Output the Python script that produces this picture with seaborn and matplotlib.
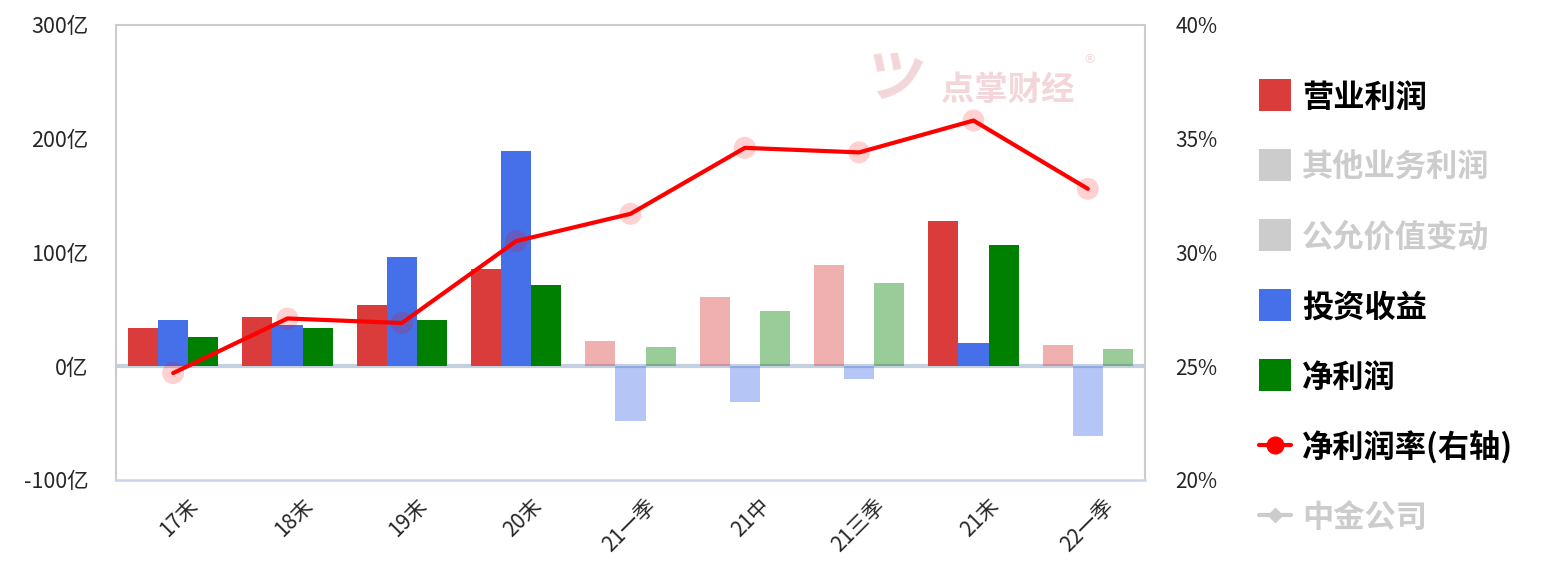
import numpy as np
import pandas as pd
import matplotlib
matplotlib.use("Agg")
import matplotlib.pyplot as plt
import matplotlib.transforms as mtransforms
from matplotlib.patches import Rectangle
from matplotlib.lines import Line2D
import seaborn as sns

# ---- data ----
categories = ["17末", "18末", "19末", "20末", "21一季", "21中", "21三季", "21末", "22一季"]
operating_profit = [34, 43, 54, 85.5, 22, 61, 89, 128, 18.5]
investment_income = [41, 36, 96, 189, -48.5, -31, -11.5, 20, -61]
net_profit = [25.5, 34, 41, 71, 17, 48.5, 73, 106.5, 15]
net_margin = [24.7, 27.1, 26.9, 30.5, 31.7, 34.6, 34.4, 35.8, 32.8]
faded = [False, False, False, False, True, True, True, False, True]

series_names = ["营业利润", "投资收益", "净利润"]
legend_labels = ["营业利润", "其他业务利润", "公允价值变动", "投资收益", "净利润", "净利润率(右轴)", "中金公司"]
legend_active = [True, False, False, True, True, True, False]
left_ticks = [-100, 0, 100, 200, 300]
right_ticks = [20, 25, 30, 35, 40]

colors = {"营业利润": "#DA3B3B", "投资收益": "#4570E9", "净利润": "#008000"}

df = pd.DataFrame({
    "cat": categories * 3,
    "series": sum([[s] * len(categories) for s in series_names], []),
    "value": operating_profit + investment_income + net_profit,
})

sns.set_theme(style="white")
plt.rcParams["font.family"] = ["Noto Sans CJK SC", "DejaVu Sans"]
plt.rcParams["axes.unicode_minus"] = False

W, H = 1542, 579
fig = plt.figure(figsize=(W / 100, H / 100), dpi=100)
ax = fig.add_axes([116 / W, 1 - 480 / H, (1145 - 116) / W, (480 - 25) / H])

ax.axhline(0, color="#C3D0E0", lw=3, zorder=0.5)

sns.barplot(data=df, x="cat", y="value", hue="series", hue_order=series_names,
            order=categories, palette=colors, width=0.79, errorbar=None,
            saturation=1, ax=ax, legend=False, zorder=2)

for cont in ax.containers:
    for i, bar in enumerate(cont):
        bar.set_edgecolor("none")
        bar.set_linewidth(0)
        if faded[i]:
            bar.set_alpha(0.4)

ax.set_ylim(-100, 300)
ax.set_yticks(left_ticks)
ax.set_yticklabels([f"{v}亿" for v in left_ticks], fontsize=15.5)
ax.set_xlim(-0.5, len(categories) - 0.5)
ax.set_xlabel("")
ax.set_ylabel("")
ax.tick_params(axis="y", length=0, pad=20)
ax.tick_params(axis="x", length=0, pad=16)
for lbl in ax.get_xticklabels():
    lbl.set_rotation(45)
    lbl.set_ha("right")
    lbl.set_va("center")
    lbl.set_rotation_mode("anchor")
    lbl.set_fontsize(15)
    lbl.set_transform(lbl.get_transform() + mtransforms.ScaledTranslation(22 / 100, 0, fig.dpi_scale_trans))

for side in ["left", "top", "right"]:
    ax.spines[side].set_color("#CCCCCC")
    ax.spines[side].set_linewidth(1.5)
ax.spines["bottom"].set_color("#C8D4E8")
ax.spines["bottom"].set_linewidth(1.8)

# watermark
ax.text(0.867, 0.857, "点掌财经", transform=ax.transAxes, fontsize=24, fontweight="bold",
        color="#F3D6D9", ha="center", va="center", zorder=0.3)
ax.text(0.755, 0.875, "ツ", transform=ax.transAxes, fontsize=42, fontweight="bold",
        color="#F3D6D9", ha="center", va="center", zorder=0.3, rotation=-10)
ax.text(0.946, 0.925, "®", transform=ax.transAxes, fontsize=9,
        color="#F3D6D9", ha="center", va="center", zorder=0.3, family="DejaVu Sans")

# right axis
ax2 = ax.twinx()
x_pos = np.arange(len(categories))
line_df = pd.DataFrame({"x": x_pos, "margin": net_margin})
sns.scatterplot(data=line_df, x="x", y="margin", ax=ax2, s=250, color="red",
                alpha=0.18, edgecolor="none", zorder=3, legend=False)
sns.lineplot(data=line_df, x="x", y="margin", ax=ax2, color="#FF0000", lw=3, zorder=4)
ax2.set_ylim(20, 40)
ax2.set_yticks(right_ticks)
ax2.set_yticklabels([f"{v}%" for v in right_ticks], fontsize=15)
ax2.tick_params(axis="y", length=0, pad=22)
ax2.set_xlabel("")
ax2.set_ylabel("")
ax2.set_xlim(-0.5, len(categories) - 0.5)
for s in ax2.spines.values():
    s.set_visible(False)

# legend (manual)
leg_colors = ["#DA3B3B", "#CCCCCC", "#CCCCCC", "#4570E9", "#008000", "red", "#CCCCCC"]
y0 = 95
for k, (lab, act, col) in enumerate(zip(legend_labels, legend_active, leg_colors)):
    yc = y0 + 70 * k
    fy = 1 - yc / H
    if k < 5:
        fig.add_artist(Rectangle((1259 / W, 1 - (yc + 16) / H), 32 / W, 32 / H,
                                 transform=fig.transFigure, color=col, lw=0))
    elif k == 5:
        fig.add_artist(Line2D([1259 / W, 1291 / W], [fy, fy], transform=fig.transFigure,
                              color=col, lw=3))
        fig.add_artist(Line2D([1275 / W], [fy], transform=fig.transFigure, marker="o",
                              markersize=12, color=col, lw=0))
    else:
        fig.add_artist(Line2D([1259 / W, 1291 / W], [fy, fy], transform=fig.transFigure,
                              color=col, lw=3))
        fig.add_artist(Line2D([1275 / W], [fy], transform=fig.transFigure, marker="D",
                              markersize=7, color=col, lw=0))
    fig.text(1302 / W, fy - 3 / H, lab, fontsize=22.5, fontweight="bold",
             color="black" if act else "#CCCCCC", ha="left", va="center")

fig.savefig("out.png", dpi=100, facecolor="white")
